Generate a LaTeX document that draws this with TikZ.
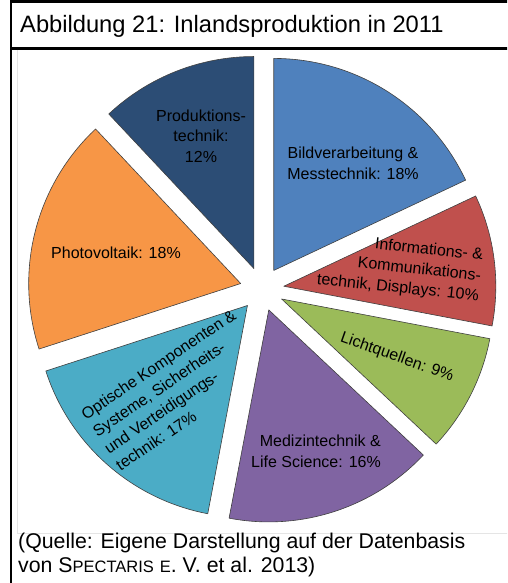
\documentclass[tikz,border=0pt]{standalone}
\usepackage{fontspec}
\setmainfont{Liberation Sans}
\usetikzlibrary{calc}
\definecolor{cBild}{HTML}{4F81BD}
\definecolor{cInfo}{HTML}{C0504D}
\definecolor{cLicht}{HTML}{9BBB59}
\definecolor{cMedi}{HTML}{8064A2}
\definecolor{cOpt}{HTML}{4BACC6}
\definecolor{cPhoto}{HTML}{F79646}
\definecolor{cProd}{HTML}{2C4D75}
\begin{document}
\begin{tikzpicture}[x=1pt,y=1pt,
  slice/.style={draw=black!75, line width=0.6pt, line join=round},
  lbl/.style={font=\fontsize{16}{20.6}\selectfont, inner sep=0pt, text=black},
  frame/.style={draw=black, line width=2.5pt},
  bigtext/.style={anchor=base west, inner sep=0pt}]
\useasboundingbox (0,0) rectangle (507,583);
\fill[white] (0,0) rectangle (507,583);

% outer frame and title rule
\begin{scope}
  \clip (0,0) rectangle (507,583);
  \draw[frame] (11.2,-10) rectangle (530,581.7);
  \draw[frame] (11.2,534.7) -- (530,534.7);
  \draw[black!10, line width=0.6pt] (17,533) -- (17,50) -- (530,50);
\end{scope}

\node[bigtext, font=\fontsize{23.7}{28}\selectfont] (title) at (20,550)
  {Abbildung 21: Inlandsproduktion in 2011};

% exploded pie
\coordinate (C) at (262,294);
\newcommand\drawslice[3]{%
  \pgfmathsetmacro\midang{(#1+#2)/2}
  \path[slice, fill=#3] ($(C)+(\midang:22)$) -- ++(#1:212)
    arc[start angle=#1, end angle=#2, radius=212] -- cycle;
}
\drawslice{90}{25.2}{cBild}
\drawslice{25.2}{-10.8}{cInfo}
\drawslice{-10.8}{-43.2}{cLicht}
\drawslice{-43.2}{-100.8}{cMedi}
\drawslice{-100.8}{-162}{cOpt}
\drawslice{-162}{-226.8}{cPhoto}
\drawslice{-226.8}{-270}{cProd}

\node[lbl, align=center] (prod) at (201,447) {Produktions-\\technik:\\12\%};
\node[lbl, align=center] (bild) at (353,420) {Bildverarbeitung \&\\Messtechnik: 18\%};
\node[lbl, align=right, rotate=-6] (info) at (400,315)
  {Informations- \&\\Kommunikations-\\technik, Displays: 10\%};
\node[lbl, rotate=-19.5] (licht) at (397,225.5) {Lichtquellen: 9\%};
\node[lbl, align=right, anchor=east] (medi) at (381,132)
  {Medizintechnik \&\\Life Science: 16\%};
\node[lbl, align=left, rotate=34, anchor=west] (opt) at (100,142)
  {Optische Komponenten \&\\Systeme, Sicherheits-\\und Verteidigungs-\\technik: 17\%};
\node[lbl] (photo) at (116,330) {Photovoltaik: 18\%};

% source line
\node[bigtext, font=\fontsize{21.3}{24}\selectfont] (src1) at (18,34)
  {(Quelle: Eigene Darstellung auf der Datenbasis};
\node[bigtext, font=\fontsize{21.3}{24}\selectfont] (src2) at (18,10)
  {von S{\fontsize{16.5}{20}\selectfont PECTARIS} {\fontsize{16.5}{20}\selectfont E}. V. et al. 2013)};
\end{tikzpicture}
\end{document}
